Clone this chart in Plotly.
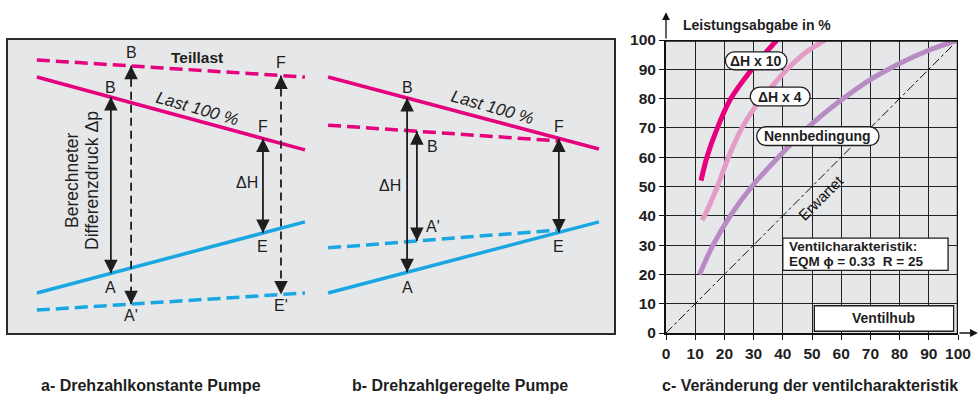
import plotly.graph_objects as go

W, H = 980, 397

# ---------------- Panel c data (Leistungsabgabe vs Ventilhub) ----------------
ventilhub_ticks = [0, 10, 20, 30, 40, 50, 60, 70, 80, 90, 100]
dh10_x = [12.0, 14.0, 17.6, 22.2, 29.4, 34.0, 38.0]
dh10_y = [52.0, 60.0, 70.0, 80.0, 90.0, 95.5, 100.0]
dh4_x = [12.3, 13.2, 17.6, 21.4, 26.0, 31.5, 37.0, 41.5, 47.5, 54.5]
dh4_y = [38.5, 40.0, 50.0, 60.0, 70.0, 78.5, 85.0, 90.0, 95.5, 100.0]
nenn_x = [11.5, 16.1, 22.0, 29.4, 38.5, 49.0, 60.0, 70.0, 80.0, 90.0, 100.0]
nenn_y = [20.0, 30.0, 40.0, 50.0, 60.0, 70.5, 79.5, 86.5, 92.0, 96.5, 100.0]
erwartet_x = [0, 100]
erwartet_y = [0, 100]

# ---------------- Panel a data (schematic, 0..100 units) ----------------
a_x = [9.6, 95.8]
a_teillast = [92.9, 87.1]
a_last100 = [87.1, 62.4]
a_blue_solid = [13.9, 38.0]
a_blue_dash = [8.1, 13.9]
# arrows: x, top, bottom, dashed
a_arrows = [(33.4, 80.3, 20.6, False), (39.9, 90.9, 10.1, True),
            (82.3, 66.3, 34.2, False), (88.1, 87.6, 13.4, True)]

# ---------------- Panel b data ----------------
b_x = [3.4, 94.6]
b_last100 = [87.1, 62.7]
b_blue_solid = [13.9, 38.0]
b_dash_x = [3.4, 81.5]
b_teillast = [70.8, 65.4]
b_blue_dash = [29.2, 35.3]
b_arrows = [(30.0, 80.0, 20.9, False), (33.3, 68.7, 31.5, False),
            (81.1, 66.3, 34.4, False)]

PINK = "#e5007e"
BLUE = "#1aa7e1"
C10 = "#e6007e"
C4 = "#e39cc6"
CN = "#b98bc4"
INK = "#1e1e1e"
BG = "#e6e7e8"
FONT = "Liberation Sans"
LDASH = "13px,6px"
ADASH = "8px,5px"

fig = go.Figure()

def dom_x(p0, p1):
    return [p0 / W, p1 / W]

def dom_y(top, bot):
    return [1 - bot / H, 1 - top / H]

# ---- lines panel a
fig.add_trace(go.Scatter(x=a_x, y=a_teillast, mode="lines", line=dict(color=PINK, width=3.5, dash=LDASH), xaxis="x", yaxis="y"))
fig.add_trace(go.Scatter(x=a_x, y=a_last100, mode="lines", line=dict(color=PINK, width=3.5), xaxis="x", yaxis="y"))
fig.add_trace(go.Scatter(x=a_x, y=a_blue_solid, mode="lines", line=dict(color=BLUE, width=3.5), xaxis="x", yaxis="y"))
fig.add_trace(go.Scatter(x=a_x, y=a_blue_dash, mode="lines", line=dict(color=BLUE, width=3.5, dash=LDASH), xaxis="x", yaxis="y"))

# ---- lines panel b
fig.add_trace(go.Scatter(x=b_x, y=b_last100, mode="lines", line=dict(color=PINK, width=3.5), xaxis="x2", yaxis="y2"))
fig.add_trace(go.Scatter(x=b_dash_x, y=b_teillast, mode="lines", line=dict(color=PINK, width=3.5, dash=LDASH), xaxis="x2", yaxis="y2"))
fig.add_trace(go.Scatter(x=b_dash_x, y=b_blue_dash, mode="lines", line=dict(color=BLUE, width=3.5, dash=LDASH), xaxis="x2", yaxis="y2"))
fig.add_trace(go.Scatter(x=b_x, y=b_blue_solid, mode="lines", line=dict(color=BLUE, width=3.5), xaxis="x2", yaxis="y2"))

annotations = []

def add_arrows(arrows, xa, ya):
    for (x, yt, yb, dashed) in arrows:
        fig.add_trace(go.Scatter(x=[x, x], y=[yt, yb], mode="lines",
                                 line=dict(color=INK, width=1.8, dash=ADASH if dashed else "solid"),
                                 xaxis=xa, yaxis=ya))
        for tip, off in ((yt, 10), (yb, -10)):
            annotations.append(dict(x=x, y=tip, xref=xa, yref=ya, ax=0, ay=off, text="",
                                    showarrow=True, arrowhead=2, arrowsize=1.35, arrowwidth=2,
                                    arrowcolor=INK, standoff=0))

add_arrows(a_arrows, "x", "y")
add_arrows(b_arrows, "x2", "y2")

# ---- panel c curves
fig.add_trace(go.Scatter(x=erwartet_x, y=erwartet_y, mode="lines", line=dict(color="#111", width=1, dash="dashdot"), xaxis="x3", yaxis="y3"))
fig.add_trace(go.Scatter(x=nenn_x, y=nenn_y, mode="lines", line=dict(color=CN, width=5, shape="spline"), xaxis="x3", yaxis="y3"))
fig.add_trace(go.Scatter(x=dh4_x, y=dh4_y, mode="lines", line=dict(color=C4, width=5, shape="spline"), xaxis="x3", yaxis="y3"))
fig.add_trace(go.Scatter(x=dh10_x, y=dh10_y, mode="lines", line=dict(color=C10, width=5, shape="spline"), xaxis="x3", yaxis="y3"))

def txt(x, y, s, xr, yr, size=16, angle=0, color=INK, weight="normal", style="normal", align="center", xanchor="center"):
    annotations.append(dict(x=x, y=y, xref=xr, yref=yr, text=s, showarrow=False, textangle=angle,
                            font=dict(family=FONT, size=size, color=color, weight=weight, style=style),
                            align=align, xanchor=xanchor, yanchor="middle"))

# panel a labels
txt(39.9, 95.3, "B", "x", "y")
txt(61.1, 93.6, "Teillast", "x", "y", weight="bold", size=15.5)
txt(88.1, 92.2, "F", "x", "y")
txt(33.4, 83.4, "B", "x", "y")
txt(61.1, 76.6, "Last 100 %", "x", "y", angle=16, style="italic", size=17)
txt(82.3, 70.2, "F", "x", "y")
txt(77.2, 51.5, "ΔH", "x", "y")
txt(82.3, 29.5, "E", "x", "y")
txt(33.4, 15.9, "A", "x", "y")
txt(39.9, 6.4, "A'", "x", "y")
txt(88.1, 9.8, "E'", "x", "y")
txt(20.9, 52.2, "Berechneter", "x", "y", angle=-90, size=17.5)
txt(27.3, 52.2, "Differenzdruck Δp", "x", "y", angle=-90, size=17.5)

# panel b labels
txt(30.0, 83.4, "B", "x2", "y2")
txt(38.4, 63.7, "B", "x2", "y2")
txt(58.9, 76.9, "Last 100 %", "x2", "y2", angle=16, style="italic", size=17)
txt(81.1, 70.2, "F", "x2", "y2")
txt(24.2, 50.5, "ΔH", "x2", "y2")
txt(38.7, 36.3, "A'", "x2", "y2")
txt(81.1, 29.8, "E", "x2", "y2")
txt(30.0, 15.9, "A", "x2", "y2")

# panel c texts
txt(53, 46.4, "Erwartet", "x3", "y3", angle=-45, size=15, color="#111")

shapes = []

def pill(xc, yc, w, h):
    r = h / 2
    x0, x1 = xc - w / 2 + r, xc + w / 2 - r
    y0, y1 = yc - r, yc + r
    k = 0.5523 * r
    p = (f"M {x0},{y0} L {x1},{y0} "
         f"C {x1 + k},{y0} {x1 + r},{yc - k} {x1 + r},{yc} "
         f"C {x1 + r},{yc + k} {x1 + k},{y1} {x1},{y1} "
         f"L {x0},{y1} "
         f"C {x0 - k},{y1} {x0 - r},{yc + k} {x0 - r},{yc} "
         f"C {x0 - r},{yc - k} {x0 - k},{y0} {x0},{y0} Z")
    shapes.append(dict(type="path", path=p, xref="x3", yref="y3", fillcolor="white",
                       line=dict(color=INK, width=1.3), layer="above"))

pill(30.9, 92.9, 21.1, 6.1)
pill(39.1, 80.7, 20.5, 6.4)
pill(52.0, 67.2, 41.9, 6.4)
txt(30.9, 92.9, "ΔH x 10", "x3", "y3", size=14, weight="bold")
txt(39.1, 80.7, "ΔH x 4", "x3", "y3", size=14, weight="bold")
txt(52.0, 67.2, "Nennbedingung", "x3", "y3", size=14, weight="bold")

shapes.append(dict(type="rect", xref="x3", yref="y3", x0=40, x1=96.6, y0=21.4, y1=32.4,
                   fillcolor="white", line=dict(color=INK, width=1.3), layer="above"))
txt(41.3, 29.5, "Ventilcharakteristik:", "x3", "y3", size=13.5, weight="bold", align="left", xanchor="left")
txt(41.3, 24.3, "EQM ϕ = 0.33  R = 25", "x3", "y3", size=13.5, weight="bold", align="left", xanchor="left")
shapes.append(dict(type="rect", xref="x3", yref="y3", x0=50.8, x1=98.5, y0=0.6, y1=9.3,
                   fillcolor="white", line=dict(color=INK, width=1.3), layer="above"))
txt(74.6, 5.0, "Ventilhub", "x3", "y3", size=14, weight="bold")

# top / right heavy border of panel c
shapes.append(dict(type="line", xref="x3", yref="y3", x0=0, x1=100, y0=100, y1=100, line=dict(color="#111", width=3.5)))
shapes.append(dict(type="line", xref="x3", yref="y3", x0=100, x1=100, y0=0, y1=100, line=dict(color="#111", width=2.5)))

# axis arrows for panel c
annotations.append(dict(x=0, y=109.5, xref="x3", yref="y3", ax=0, ay=100, axref="x3", ayref="y3", text="",
                        showarrow=True, arrowhead=2, arrowsize=1.2, arrowwidth=1.3, arrowcolor="#111", standoff=0))
annotations.append(dict(x=106.8, y=0, xref="x3", yref="y3", ax=100, ay=0, axref="x3", ayref="y3", text="",
                        showarrow=True, arrowhead=2, arrowsize=1.2, arrowwidth=1.3, arrowcolor="#111", standoff=0))

annotations.append(dict(x=757 / W, y=1 - 25 / H, xref="paper", yref="paper", text="Leistungsabgabe in %",
                        showarrow=False, xanchor="center", yanchor="middle",
                        font=dict(family=FONT, size=14, color=INK, weight="bold")))

# border of panels a+b
shapes.append(dict(type="rect", xref="paper", yref="paper", x0=7 / W, x1=615 / W,
                   y0=1 - 334 / H, y1=1 - 39 / H, line=dict(color="#2a2a2a", width=2), layer="above"))

# captions
for cx, s in ((151, "a- Drehzahlkonstante Pumpe"), (460, "b- Drehzahlgeregelte Pumpe"),
              (810, "c- Veränderung der ventilcharakteristik")):
    annotations.append(dict(x=cx / W, y=1 - 385 / H, xref="paper", yref="paper", text=s, showarrow=False,
                            xanchor="center", yanchor="middle",
                            font=dict(family=FONT, size=16, color=INK, weight="bold")))

hidden = dict(visible=False, range=[0, 100], fixedrange=True, automargin=False)
fig.update_layout(
    width=W, height=H, margin=dict(l=0, r=0, t=0, b=0, autoexpand=False),
    paper_bgcolor="white", plot_bgcolor=BG, showlegend=False,
    font=dict(family=FONT, color=INK),
    xaxis=dict(hidden, domain=dom_x(7, 318), anchor="y"),
    yaxis=dict(hidden, domain=dom_y(39, 334), anchor="x"),
    xaxis2=dict(hidden, domain=dom_x(318, 615), anchor="y2"),
    yaxis2=dict(hidden, domain=dom_y(39, 334), anchor="x2"),
    xaxis3=dict(domain=dom_x(666, 958), range=[0, 100], anchor="y3", tickvals=ventilhub_ticks,
                automargin=False,
                showgrid=True, gridcolor="#222", gridwidth=1.4, zeroline=False,
                showline=True, linecolor="#111", linewidth=2, ticks="outside", ticklen=5,
                tickcolor="#111", tickwidth=1.3,
                tickfont=dict(family=FONT, size=15.5, color=INK, weight="bold")),
    yaxis3=dict(domain=dom_y(40, 333), range=[0, 100], anchor="x3", tickvals=ventilhub_ticks,
                automargin=False,
                showgrid=True, gridcolor="#222", gridwidth=1.4, zeroline=False,
                showline=True, linecolor="#111", linewidth=2, ticks="outside", ticklen=5,
                tickcolor="#111", tickwidth=1.3,
                tickfont=dict(family=FONT, size=15.5, color=INK, weight="bold")),
    annotations=annotations, shapes=shapes,
)

fig.write_html("out.html", config={"displayModeBar": False},
               post_script="document.body.style.margin='0px';document.body.style.overflow='hidden';")
